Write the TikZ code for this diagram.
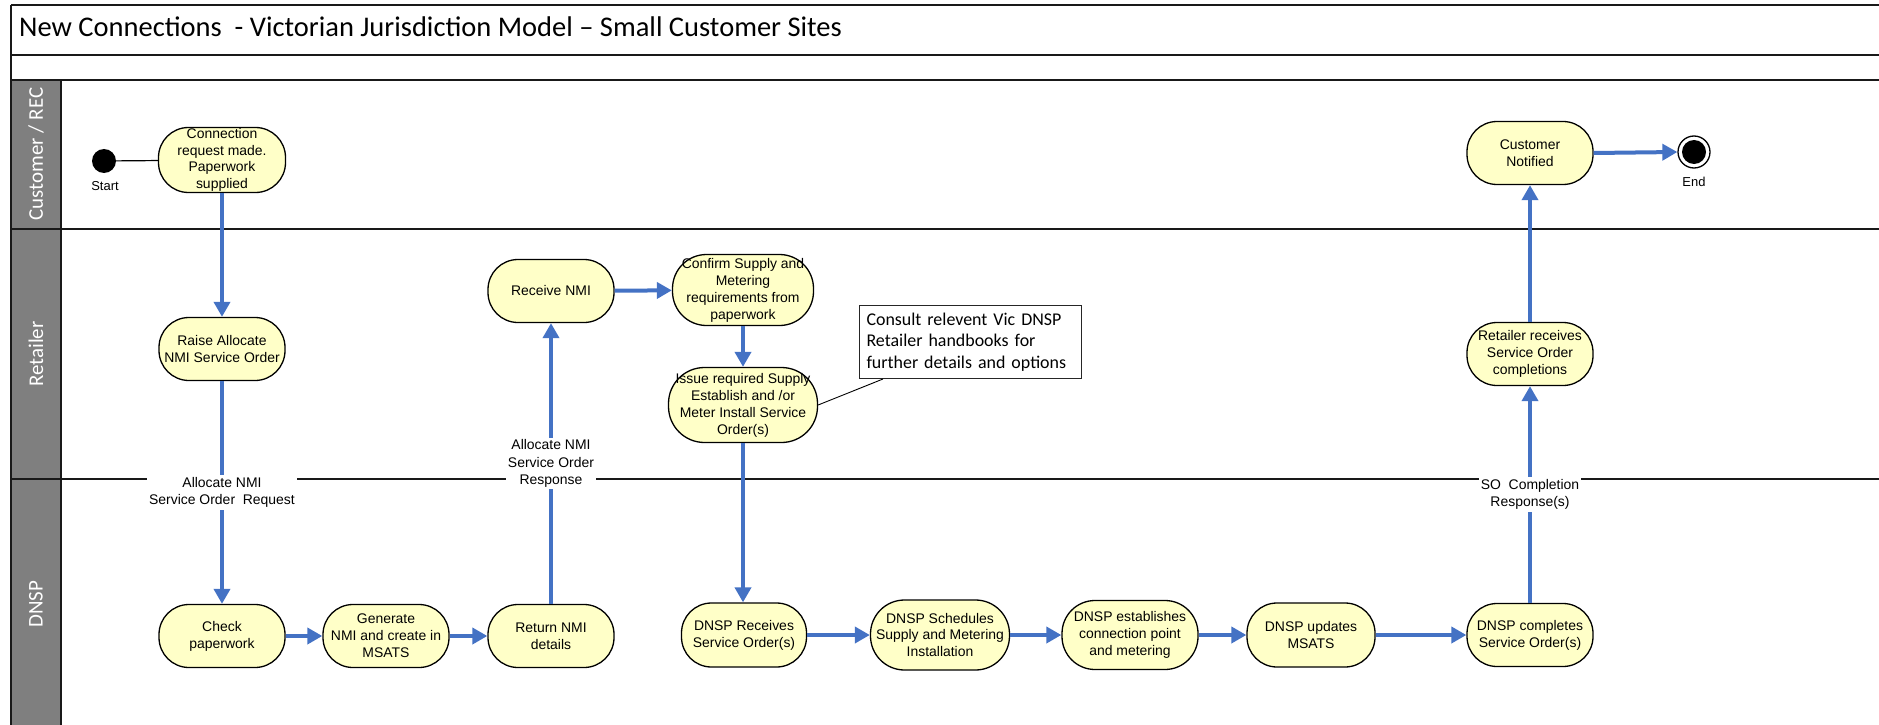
\documentclass[tikz,border=0pt]{standalone}
\usepackage{fontspec}
\setmainfont{Liberation Sans}
\newfontfamily\calibri{Carlito}
\usetikzlibrary{arrows.meta}
\definecolor{actfill}{RGB}{255,255,200}
\definecolor{flowblue}{RGB}{68,114,196}
\definecolor{lanegray}{RGB}{127,127,127}
\begin{document}
\begin{tikzpicture}[x=1bp,y=-1bp,
  frame/.style={draw=black!90,line width=1.5bp},
  act/.style={draw=black,line width=1.3bp,fill=actfill,rounded corners=30bp,
    minimum width=126bp,minimum height=63bp,align=center,inner sep=1bp,
    font=\fontsize{14}{17}\selectfont},
  flow/.style={draw=flowblue,line width=4bp,-{Triangle[length=15bp,width=16bp]}},
  lbl/.style={fill=white,align=center,inner sep=2bp,font=\fontsize{14}{17.5}\selectfont},
  lanelbl/.style={text=white,rotate=90,font=\calibri\fontsize{21}{24}\selectfont},
  note/.style={draw=black!85,line width=1bp,fill=white,align=left,anchor=north west,
    text width=208bp,minimum width=222bp,minimum height=73bp,inner xsep=7bp,
    font=\calibri\fontsize{18}{21.3}\selectfont},
  small/.style={font=\fontsize{13}{15}\selectfont,inner sep=0bp}]
\useasboundingbox (0,0) rectangle (1879,725);
\clip (0,0) rectangle (1879,725);
% frame and lanes
\fill[lanegray] (11,80) rectangle (61,740);
\draw[frame] (11,5) -- (1890,5);
\draw[frame] (11,55) -- (1890,55);
\draw[frame] (11,80) -- (1890,80);
\draw[frame] (11,229) -- (1890,229);
\draw[frame] (11,479) -- (1890,479);
\draw[frame] (11,5) -- (11,740);
\draw[frame] (61,80) -- (61,740);
\node[anchor=base west,inner sep=0bp,font=\calibri\fontsize{28.6}{32}\selectfont] (title) at (19,37)
  {New Connections \ - Victorian Jurisdiction Model – Small Customer Sites};
\node[lanelbl] (laneC) at (36,154) {Customer / REC};
\node[lanelbl] (laneR) at (36,354) {Retailer};
\node[lanelbl] (laneD) at (36,604) {DNSP};
% start / end
\node[circle,fill=black,minimum size=24bp,inner sep=0bp] (start) at (104,161) {};
\node[small] (startlbl) at (105,186) {Start};
\node[circle,draw=black,line width=1.3bp,fill=white,minimum size=32bp,inner sep=0bp] (end) at (1694,152) {};
\node[circle,fill=black,minimum size=24bp,inner sep=0bp] (endin) at (1694,152) {};
\node[small] (endlbl) at (1694,182) {End};
% activities
\node[act,minimum width=127bp,minimum height=65bp,font=\fontsize{14}{16.6}\selectfont] (conn) at (222,160) {Connection\\request made.\\Paperwork\\supplied};
\node[act] (raise) at (222,349) {Raise Allocate\\NMI Service Order};
\node[act] (check) at (222,636) {Check\\paperwork};
\node[act] (gen) at (386,636) {Generate\\NMI and create in\\MSATS};
\node[act] (ret) at (551,636) {Return NMI\\details};
\node[act] (recv) at (551,291) {Receive NMI};
\node[act,minimum width=141bp,minimum height=71bp,rounded corners=34bp] (confirm) at (743,290) {Confirm Supply and\\Metering\\requirements from\\paperwork};
\node[act,minimum width=149bp,minimum height=75bp,rounded corners=36bp] (issue) at (743,405) {Issue required Supply\\Establish and /or\\Meter Install Service\\Order(s)};
\node[act,minimum width=125bp,minimum height=64bp] (drecv) at (744,635) {DNSP Receives\\Service Order(s)};
\node[act,minimum width=139bp,minimum height=70bp,rounded corners=34bp] (dsched) at (940,635) {DNSP Schedules\\Supply and Metering\\Installation};
\node[act,minimum width=136bp,minimum height=69bp,rounded corners=33bp] (destab) at (1130,635) {DNSP establishes\\connection point\\and metering};
\node[act,minimum width=128bp,minimum height=64bp] (dupd) at (1311,635) {DNSP updates\\MSATS};
\node[act] (dcomp) at (1530,635) {DNSP completes\\Service Order(s)};
\node[act] (rrecv) at (1530,354) {Retailer receives\\Service Order\\completions};
\node[act] (cnot) at (1530,153) {Customer\\Notified};
% note
\node[note] (note) at (859,305) {Consult relevent Vic DNSP\\Retailer handbooks for\\further details and options};
\coordinate (notefoot) at ([xshift=24bp]note.south west);
\draw[black,line width=0.9bp] (notefoot) -- (issue.east);
% connectors
\draw[black,line width=1.2bp] (start) -- (conn);
\draw[flow] (conn.south) -- (raise.north);
\draw[flow] (raise.south) -- (check.north) node[lbl,midway] (lblreq) {Allocate NMI\\Service Order \ Request};
\draw[flow] (check) -- (gen);
\draw[flow] (gen) -- (ret);
\draw[flow] (ret.north) -- (recv.south) node[lbl,midway] (lblresp) {Allocate NMI\\Service Order\\Response};
\draw[flow] (recv) -- (confirm);
\draw[flow] (confirm.south) -- (issue.north);
\draw[flow] (issue.south) -- (issue.south |- drecv.north);
\draw[flow] (drecv) -- (dsched);
\draw[flow] (dsched) -- (destab);
\draw[flow] (destab) -- (dupd);
\draw[flow] (dupd) -- (dcomp);
\draw[flow] (dcomp.north) -- (rrecv.south) node[lbl,midway] (lblso) {SO \ Completion\\Response(s)};
\draw[flow] (rrecv.north) -- (cnot.south);
\draw[flow] (cnot.east) -- (end.west);
\end{tikzpicture}
\end{document}
